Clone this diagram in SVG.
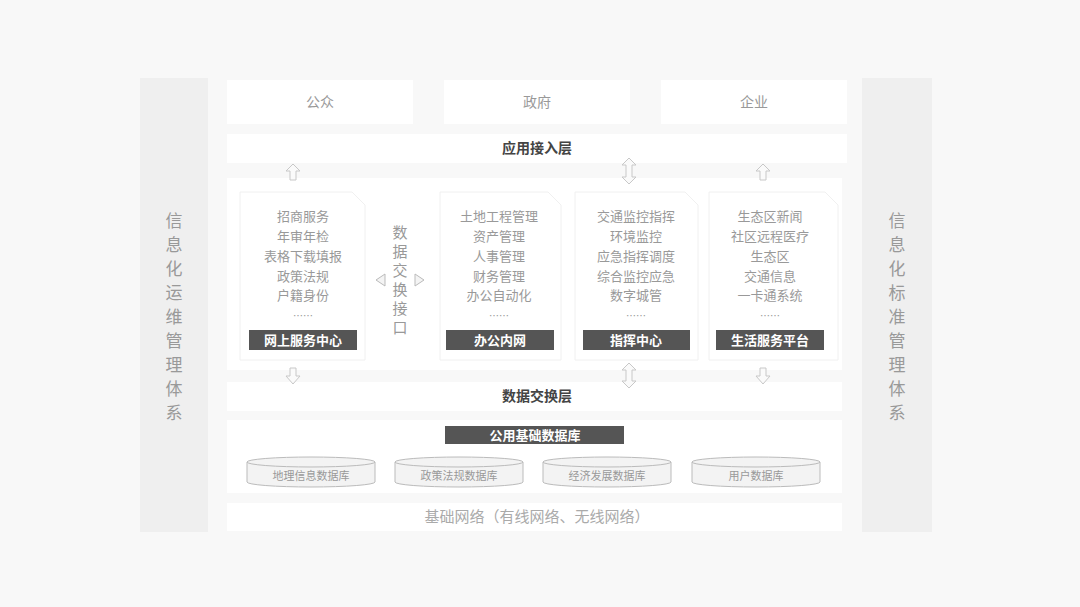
<svg xmlns="http://www.w3.org/2000/svg" width="1080" height="607" viewBox="0 0 1080 607">
<style>
text{font-family:"Noto Sans CJK SC","Noto Sans",sans-serif;text-anchor:middle}
.box{fill:#ffffff}
.side{fill:#efefef}
.lt{font-size:14px;fill:#999}
.bar{font-size:14px;font-weight:bold;fill:#444}
.it{font-size:13px;fill:#999}
.vi{font-size:15px;fill:#999}
.vt{font-size:17px;fill:#999}
.dk{fill:#555}
.dt{font-size:13px;font-weight:bold;fill:#fff}
.card{fill:#ffffff;stroke:#f0f0f0;stroke-width:1}
.arr{fill:#fafafa;stroke:#c8c8c8;stroke-width:1}
.cyl{fill:#f3f3f3;stroke:#bbb;stroke-width:1}
.ct{font-size:11px;fill:#999}
</style>
<rect width="1080" height="607" fill="#f8f8f8"/>
<g id="side-left"><rect class="side" x="140" y="78" width="68" height="454"/>
<text class="vt" x="174" y="227">信</text><text class="vt" x="174" y="251">息</text><text class="vt" x="174" y="275">化</text><text class="vt" x="174" y="299">运</text><text class="vt" x="174" y="323">维</text><text class="vt" x="174" y="347">管</text><text class="vt" x="174" y="371">理</text><text class="vt" x="174" y="395">体</text><text class="vt" x="174" y="419">系</text></g>
<g id="side-right"><rect class="side" x="862" y="78" width="70" height="454"/>
<text class="vt" x="897" y="227">信</text><text class="vt" x="897" y="251">息</text><text class="vt" x="897" y="275">化</text><text class="vt" x="897" y="299">标</text><text class="vt" x="897" y="323">准</text><text class="vt" x="897" y="347">管</text><text class="vt" x="897" y="371">理</text><text class="vt" x="897" y="395">体</text><text class="vt" x="897" y="419">系</text></g>
<g id="user-public"><rect class="box" x="227" y="80" width="186" height="44"/><text class="lt" x="320" y="107">公众</text></g>
<g id="user-gov"><rect class="box" x="444" y="80" width="186" height="44"/><text class="lt" x="537" y="107">政府</text></g>
<g id="user-ent"><rect class="box" x="661" y="80" width="186" height="44"/><text class="lt" x="754" y="107">企业</text></g>
<g id="app-layer"><rect class="box" x="227" y="134" width="620" height="29"/><text class="bar" x="537" y="153">应用接入层</text></g>
<g id="middle-panel"><rect class="box" x="227" y="178" width="615" height="192"/></g>
<g id="card-online">
<path class="card" d="M240 192 H352 L365 205 V360 H240 Z"/>
<text class="it" x="303" y="221">招商服务</text><text class="it" x="303" y="241">年审年检</text><text class="it" x="303" y="261">表格下载填报</text><text class="it" x="303" y="281">政策法规</text><text class="it" x="303" y="300">户籍身份</text><text class="it" x="303" y="320" style="font-size:10px">……</text>
<rect class="dk" x="249" y="330" width="108" height="20"/><text class="dt" x="303" y="345">网上服务中心</text></g>
<g id="exchange-if">
<text class="vi" x="400" y="238">数</text><text class="vi" x="400" y="257">据</text><text class="vi" x="400" y="276">交</text><text class="vi" x="400" y="295">换</text><text class="vi" x="400" y="314">接</text><text class="vi" x="400" y="333">口</text>
<path d="M385 274 L376 280 L385 286 Z" fill="#f4f4f4" stroke="#bbb"/><path d="M415 274 L424 280 L415 286 Z" fill="#f4f4f4" stroke="#bbb"/></g>
<g id="card-office">
<path class="card" d="M440 192 H548 L561 205 V360 H440 Z"/>
<text class="it" x="499" y="221">土地工程管理</text><text class="it" x="499" y="241">资产管理</text><text class="it" x="499" y="261">人事管理</text><text class="it" x="499" y="281">财务管理</text><text class="it" x="499" y="300">办公自动化</text><text class="it" x="499" y="320" style="font-size:10px">……</text>
<rect class="dk" x="446" y="330" width="108" height="20"/><text class="dt" x="500" y="345">办公内网</text></g>
<g id="card-command">
<path class="card" d="M575 192 H685 L698 205 V360 H575 Z"/>
<text class="it" x="636" y="221">交通监控指挥</text><text class="it" x="636" y="241">环境监控</text><text class="it" x="636" y="261">应急指挥调度</text><text class="it" x="636" y="281">综合监控应急</text><text class="it" x="636" y="300">数字城管</text><text class="it" x="636" y="320" style="font-size:10px">……</text>
<rect class="dk" x="583" y="330" width="107" height="20"/><text class="dt" x="636" y="345">指挥中心</text></g>
<g id="card-life">
<path class="card" d="M709 192 H825 L838 205 V360 H709 Z"/>
<text class="it" x="770" y="221">生态区新闻</text><text class="it" x="770" y="241">社区远程医疗</text><text class="it" x="770" y="261">生态区</text><text class="it" x="770" y="281">交通信息</text><text class="it" x="770" y="300">一卡通系统</text><text class="it" x="770" y="320" style="font-size:10px">……</text>
<rect class="dk" x="716" y="330" width="108" height="20"/><text class="dt" x="770" y="345">生活服务平台</text></g>
<g id="data-layer"><rect class="box" x="227" y="382" width="615" height="29"/><text class="bar" x="537" y="401">数据交换层</text></g>
<g id="db-panel"><rect class="box" x="227" y="420" width="615" height="73"/>
<rect class="dk" x="445" y="426" width="179" height="18"/><text class="dt" x="535" y="440">公用基础数据库</text></g>
<g id="db-geo"><path class="cyl" d="M247 462 V482 A64 5 0 0 0 375 482 V462"/><ellipse class="cyl" cx="311" cy="462" rx="64" ry="5"/><text class="ct" x="311" y="480">地理信息数据库</text></g>
<g id="db-policy"><path class="cyl" d="M395 462 V482 A64 5 0 0 0 523 482 V462"/><ellipse class="cyl" cx="459" cy="462" rx="64" ry="5"/><text class="ct" x="459" y="480">政策法规数据库</text></g>
<g id="db-econ"><path class="cyl" d="M543 462 V482 A64 5 0 0 0 671 482 V462"/><ellipse class="cyl" cx="607" cy="462" rx="64" ry="5"/><text class="ct" x="607" y="480">经济发展数据库</text></g>
<g id="db-user"><path class="cyl" d="M692 462 V482 A64 5 0 0 0 820 482 V462"/><ellipse class="cyl" cx="756" cy="462" rx="64" ry="5"/><text class="ct" x="756" y="480">用户数据库</text></g>
<g id="network"><rect class="box" x="227" y="503" width="615" height="28"/><text x="537" y="522" style="font-size:15px;fill:#aaa">基础网络（有线网络、无线网络）</text></g>
<g id="connectors">
<path class="arr" d="M293 164 L286 171 H290 V180 H296 V171 H300 Z"/>
<path class="arr" d="M629 158 L622 165 H626 V177 H622 L629 184 L636 177 H632 V165 H636 Z"/>
<path class="arr" d="M763 164 L756 171 H760 V180 H766 V171 H770 Z"/>
<path class="arr" d="M290 368 V376 H286 L293 384 L300 376 H296 V368 Z"/>
<path class="arr" d="M629 363 L622 370 H626 V381 H622 L629 388 L636 381 H632 V370 H636 Z"/>
<path class="arr" d="M760 368 V376 H756 L763 384 L770 376 H766 V368 Z"/>
</g>
</svg>
